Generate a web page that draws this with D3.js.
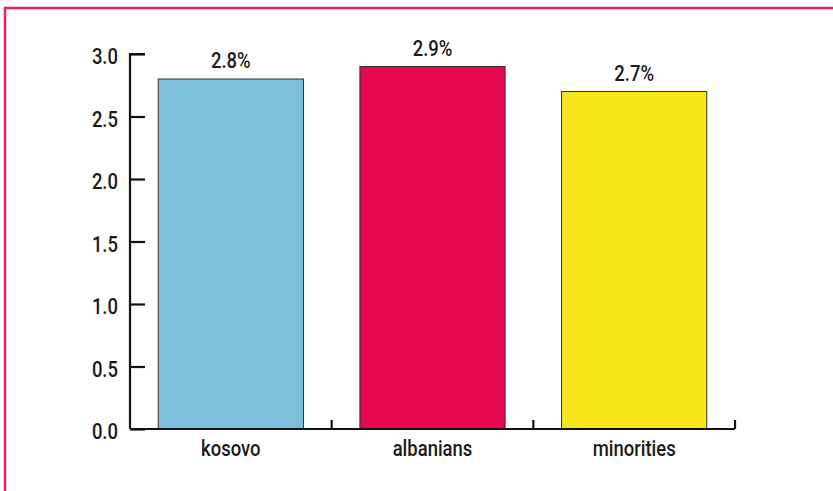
<!DOCTYPE html>
<html>
<head>
<meta charset="utf-8">
<script src="https://cdn.jsdelivr.net/npm/d3@7"></script>
<style>
  body { margin: 0; background: #fff; }
  text { font-family: Roboto, "Liberation Sans", Arial, sans-serif; font-weight: 500; }
</style>
</head>
<body>
<div id="chart"></div>
<script>
// Data
var categories = ["kosovo", "albanians", "minorities"];
var values = [2.8, 2.9, 2.7];
var valueLabels = ["2.8%", "2.9%", "2.7%"];
var yTicks = [0, 0.5, 1.0, 1.5, 2.0, 2.5, 3.0];
var barColors = ["#7cc0db", "#e8084f", "#f6e61a"];

var W = 833, H = 491;
var margin = { top: 54, right: 98, bottom: 62, left: 130 },
    width = W - margin.left - margin.right,
    height = H - margin.top - margin.bottom;

var fs = 22;      // font size
var sx = 0.84;    // horizontal squeeze to mimic a condensed face

var svg = d3.select("#chart").append("svg")
    .attr("width", W)
    .attr("height", H);

// pink frame (runs off the right and bottom edges)
svg.append("rect")
    .attr("x", 5).attr("y", 8)
    .attr("width", W + 20).attr("height", H + 20)
    .attr("fill", "#fff")
    .attr("stroke", "#e6236a")
    .attr("stroke-width", 2.5);

var g = svg.append("g")
    .attr("transform", "translate(" + margin.left + "," + margin.top + ")");

var x = d3.scaleBand().domain(categories).range([0, width]).padding(0);
var y = d3.scaleLinear().domain([0, 3]).range([height, 0]);

var barW = x.bandwidth() * 0.72;

// bars
g.selectAll(".bar")
    .data(categories)
    .enter().append("rect")
    .attr("class", "bar")
    .attr("x", function (d) { return x(d) + (x.bandwidth() - barW) / 2; })
    .attr("y", function (d, i) { return y(values[i]); })
    .attr("width", barW)
    .attr("height", function (d, i) { return height - y(values[i]); })
    .attr("fill", function (d, i) { return barColors[i]; })
    .attr("stroke", "#333")
    .attr("stroke-width", 1);

// value labels
g.selectAll(".val")
    .data(categories)
    .enter().append("text")
    .attr("class", "val")
    .attr("transform", function (d, i) {
        return "translate(" + (x(d) + x.bandwidth() / 2) + "," + (y(values[i]) - 11) + ") scale(" + sx + ",1)";
    })
    .attr("text-anchor", "middle")
    .attr("font-size", fs)
    .attr("fill", "#1a1a1a")
    .text(function (d, i) { return valueLabels[i]; });

// y axis: ticks point inward
var yAxis = g.append("g")
    .call(d3.axisRight(y).tickValues(yTicks).tickSize(15).tickFormat(d3.format(".1f")));
yAxis.select(".domain").attr("stroke", "#111").attr("stroke-width", 2.2)
    .attr("d", "M15,0H0V" + height);
yAxis.selectAll(".tick line").attr("stroke", "#111").attr("stroke-width", 2.2);
yAxis.selectAll(".tick text")
    .attr("x", -12 / sx)
    .attr("dy", "0.45em")
    .attr("transform", "scale(" + sx + ",1)")
    .attr("text-anchor", "end")
    .attr("font-size", fs)
    .attr("fill", "#1a1a1a");

// x axis: baseline with upward ticks at the band boundaries
var xg = g.append("g").attr("transform", "translate(0," + height + ")");
xg.append("line")
    .attr("x1", 0).attr("x2", width)
    .attr("stroke", "#111").attr("stroke-width", 2.2);
xg.selectAll(".xtick")
    .data(categories.slice(1).concat(["end"]))
    .enter().append("line")
    .attr("class", "xtick")
    .attr("x1", function (d) { return d === "end" ? width : x(d); })
    .attr("x2", function (d) { return d === "end" ? width : x(d); })
    .attr("y1", 0).attr("y2", -9)
    .attr("stroke", "#111").attr("stroke-width", 2.2);
xg.selectAll(".xlab")
    .data(categories)
    .enter().append("text")
    .attr("class", "xlab")
    .attr("transform", function (d) {
        return "translate(" + (x(d) + x.bandwidth() / 2) + ",27) scale(" + sx + ",1)";
    })
    .attr("text-anchor", "middle")
    .attr("font-size", fs)
    .attr("fill", "#1a1a1a")
    .text(function (d) { return d; });
</script>
</body>
</html>
